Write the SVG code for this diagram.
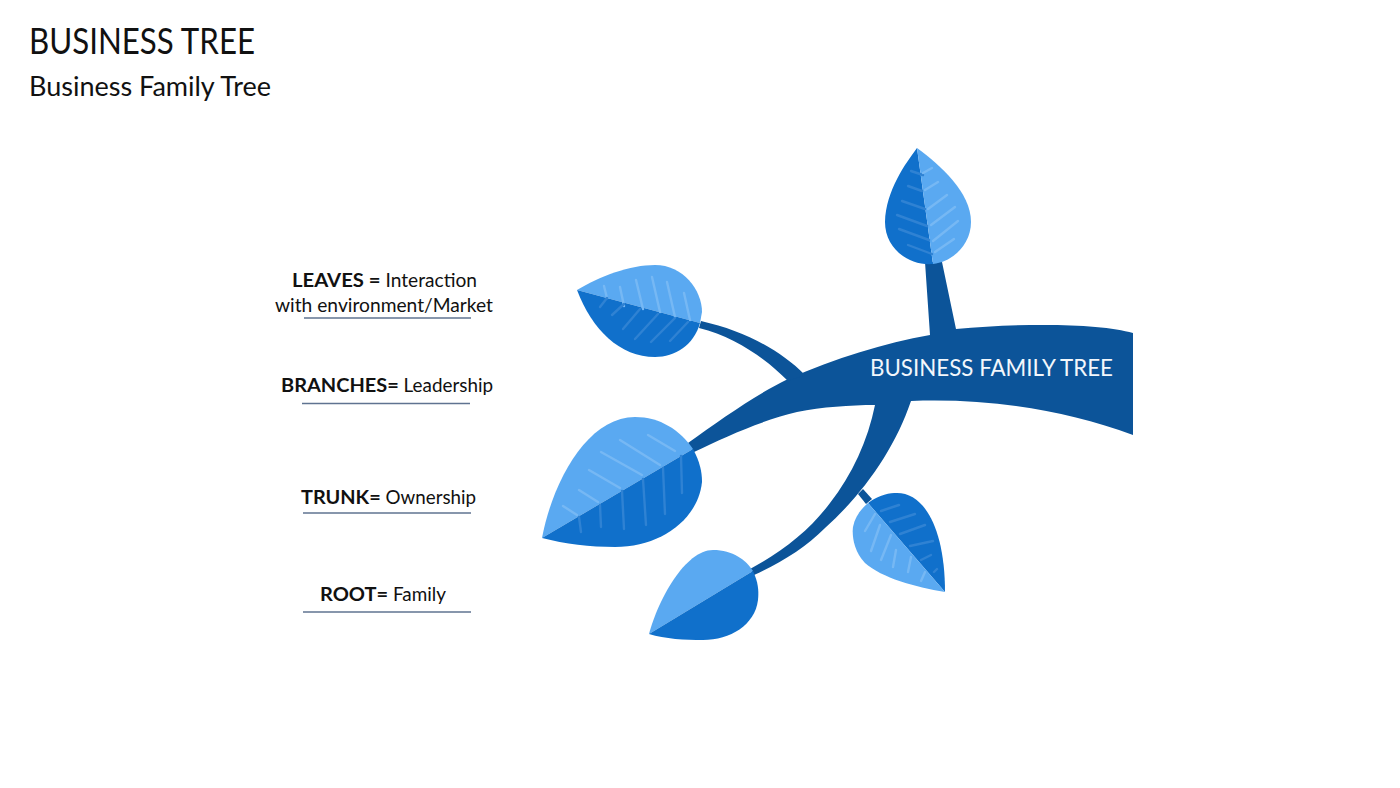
<svg xmlns="http://www.w3.org/2000/svg" width="1400" height="788" viewBox="0 0 1400 788">
<style>
text{font-family:"Lato","Liberation Sans",sans-serif;fill:#111}
.lab{font-size:18.5px}
.b{font-weight:700;font-size:19.6px}
.li{fill:#5AA9F1}
.da{fill:#1070CB}
.tr{fill:#0C5499}
.ul{stroke:#5F7391;stroke-width:1.5;fill:none}
.vl{stroke:#76B8F4;stroke-width:2.4;fill:none;stroke-linecap:round}
.vd{stroke:#2F82D3;stroke-width:2.4;fill:none;stroke-linecap:round}
</style>
<rect width="1400" height="788" fill="#fff"/>
<text x="29" y="54" font-size="36" textLength="226" lengthAdjust="spacingAndGlyphs">BUSINESS TREE</text>
<text x="29" y="96" font-size="26" textLength="242" lengthAdjust="spacingAndGlyphs">Business Family Tree</text>

<g id="connectors">
<path class="tr" d="M1133 333C1100 323 1020 323 956 329L942 262H925L930 335C885 343 835 358 788 379C755 395 720 420 688 443L694 452C725 437 760 421 797 412C822 407 850 405 875 405C868 440 852 475 830 503C810 530 782 552 750 569L754 575C782 562 805 548 825 528C865 492 895 448 911 401C990 398 1065 410 1133 435Z"/>
<path class="tr" d="M701 321C745 331 780 350 805 375L788 381C765 358 735 337 699 328Z"/>
<path class="tr" d="M858 494L863 489L872 499L866 504Z"/>
</g>

<g id="leaf-top">
<path class="da" d="M917 148C906 163 886 190 885 222C885 248 908 266 933 264Z"/>
<path class="li" d="M917 148L933 264C952 262 971 245 971 222C971 192 940 165 917 148Z"/>
<path class="vd" d="M911 171L923 175M908 186L922 191M902 201L925 209M897 215L927 226M899 229L929 240M908 245L932 254"/>
<path class="vl" d="M923 173L932 168M925 190L938 182M928 209L947 195M931 225L955 207M933 241L958 221M935 252L954 239"/>
</g>

<g id="leaf-upper-left">
<path class="li" d="M577 290C600 276 630 265 655 265C683 265 702 290 702 312L700 323Z"/>
<path class="da" d="M577 290L700 323C694 345 675 357 655 357C620 357 592 330 577 290Z"/>
<path class="vl" d="M604 286L607 298M620 287L624 306M636 280L643 309M652 277L660 312M667 282L675 317M684 293L690 320"/>
<path class="vd" d="M600 307L607 298M612 315L624 304M623 329L640 309M635 339L658 314M651 342L675 318M670 341L688 322"/>
</g>

<g id="leaf-big">
<path class="li" d="M542 538C553 480 588 417 635 417C660 417 680 430 693 449Z"/>
<path class="da" d="M542 538L693 449C700 462 702 472 702 482C698 520 660 547 615 547C590 547 565 544 542 538Z"/>
<path class="vl" d="M648 435L675 451M620 440L660 465M601 452L642 475M589 470L620 488M579 490L598 502M563 506L577 515"/>
<path class="vd" d="M681 456L682 493M663 468L665 514M643 479L646 525M622 491L624 529M600 505L601 527M579 517L581 532"/>
</g>

<g id="leaf-lower">
<path class="li" d="M649 634C658 600 685 550 713 550C733 550 746 560 753 571Z"/>
<path class="da" d="M649 634L753 571C758 582 759 590 758 600C755 625 730 640 703 640C685 640 665 639 649 634Z"/>
</g>

<g id="leaf-right">
<path class="da" d="M868 503C880 494 890 493 897 493C925 493 945 530 945 592Z"/>
<path class="li" d="M868 503L945 592C915 587 882 578 865 563C853 551 852 534 853 527C855 517 860 510 868 503Z"/>
<path class="vd" d="M881 511L899 505M890 522L915 514M900 534L925 525M910 546L933 541M921 560L931 555M934 572L937 569"/>
<path class="vl" d="M875 514L865 531M880 525L871 551M891 535L881 560M896 550L893 567M911 557L908 572M925 572L921 581"/>
</g>

<text x="870" y="376" font-size="23" style="fill:#F2F7FC" textLength="243" lengthAdjust="spacingAndGlyphs">BUSINESS FAMILY TREE</text>

<g id="label-leaves">
<text x="292" y="287" class="lab" textLength="185" lengthAdjust="spacingAndGlyphs"><tspan class="b">LEAVES =</tspan> Interaction</text>
<text x="275" y="312" class="lab" textLength="218" lengthAdjust="spacingAndGlyphs">with environment/Market</text>
<path class="ul" d="M304 318H471"/>
</g>
<g id="label-branches">
<text x="281" y="392" class="lab" textLength="212" lengthAdjust="spacingAndGlyphs"><tspan class="b">BRANCHES=</tspan> Leadership</text>
<path class="ul" d="M302 403.500H470"/>
</g>
<g id="label-trunk">
<text x="301" y="504" class="lab" textLength="175" lengthAdjust="spacingAndGlyphs"><tspan class="b">TRUNK=</tspan> Ownership</text>
<path class="ul" d="M303 513H471"/>
</g>
<g id="label-root">
<text x="320" y="601" class="lab" textLength="126" lengthAdjust="spacingAndGlyphs"><tspan class="b">ROOT=</tspan> Family</text>
<path class="ul" d="M303 612H471"/>
</g>
</svg>
